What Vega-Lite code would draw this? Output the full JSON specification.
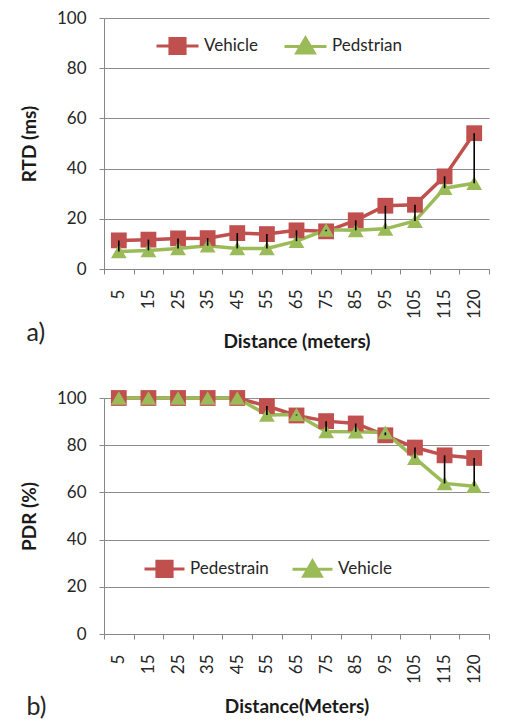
{
  "$schema": "https://vega.github.io/schema/vega-lite/v6.json",
  "background": "white",
  "padding": {"left": 20, "top": 9, "right": 10, "bottom": 8},
  "config": {
    "font": "Lato",
    "view": {"stroke": null},
    "axis": {
      "labelFont": "Lato", "labelFontSize": 17, "labelColor": "#262626",
      "titleFont": "Lato", "titleFontSize": 19, "titleFontWeight": "bold", "titleColor": "#1a1a1a",
      "domainColor": "#868686", "tickColor": "#868686", "gridColor": "#8c8c8c", "tickSize": 5
    },
    "legend": {"labelFont": "Lato", "labelFontSize": 17, "labelColor": "#262626"},
    "concat": {"spacing": 37}
  },
  "datasets": {
    "rtd": [
      {"Distance": 5, "Vehicle": 11.4, "Pedstrian": 7.0},
      {"Distance": 15, "Vehicle": 11.7, "Pedstrian": 7.4},
      {"Distance": 25, "Vehicle": 12.2, "Pedstrian": 8.2},
      {"Distance": 35, "Vehicle": 12.3, "Pedstrian": 9.3},
      {"Distance": 45, "Vehicle": 14.3, "Pedstrian": 8.2},
      {"Distance": 55, "Vehicle": 13.9, "Pedstrian": 8.2},
      {"Distance": 65, "Vehicle": 15.4, "Pedstrian": 11.1},
      {"Distance": 75, "Vehicle": 15.0, "Pedstrian": 15.6},
      {"Distance": 85, "Vehicle": 19.4, "Pedstrian": 15.4},
      {"Distance": 95, "Vehicle": 25.2, "Pedstrian": 16.0},
      {"Distance": 105, "Vehicle": 25.6, "Pedstrian": 19.1},
      {"Distance": 115, "Vehicle": 36.9, "Pedstrian": 32.2},
      {"Distance": 120, "Vehicle": 54.1, "Pedstrian": 34.2}
    ],
    "pdr": [
      {"Distance": 5, "Pedestrain": 100, "Vehicle": 100},
      {"Distance": 15, "Pedestrain": 100, "Vehicle": 100},
      {"Distance": 25, "Pedestrain": 100, "Vehicle": 100},
      {"Distance": 35, "Pedestrain": 100, "Vehicle": 100},
      {"Distance": 45, "Pedestrain": 100, "Vehicle": 100},
      {"Distance": 55, "Pedestrain": 96.6, "Vehicle": 92.8},
      {"Distance": 65, "Pedestrain": 92.6, "Vehicle": 93.0},
      {"Distance": 75, "Pedestrain": 90.2, "Vehicle": 85.8},
      {"Distance": 85, "Pedestrain": 89.2, "Vehicle": 85.7},
      {"Distance": 95, "Pedestrain": 84.2, "Vehicle": 85.4},
      {"Distance": 105, "Pedestrain": 79.0, "Vehicle": 74.5},
      {"Distance": 115, "Pedestrain": 75.7, "Vehicle": 63.8},
      {"Distance": 120, "Pedestrain": 74.6, "Vehicle": 62.6}
    ]
  },
  "vconcat": [
    {
      "width": 385,
      "height": 251,
      "data": {"name": "rtd"},
      "title": {"text": "a)", "orient": "bottom", "anchor": "start", "frame": "bounds", "offset": -31, "dx": 6, "fontSize": 25, "fontWeight": "normal", "font": "Lato", "color": "#262626"},
      "layer": [
        {
          "transform": [{"fold": ["Vehicle", "Pedstrian"], "as": ["Series", "Value"]}],
          "mark": {"type": "line", "strokeWidth": 3.5},
          "encoding": {
            "x": {"field": "Distance", "type": "ordinal", "scale": {"type": "band", "paddingInner": 0, "paddingOuter": 0}, "axis": {"title": "Distance (meters)", "labelAngle": 270, "tickBand": "extent", "grid": false, "labelPadding": 15, "titlePadding": 14}},
            "y": {"field": "Value", "type": "quantitative", "scale": {"domain": [0, 100]}, "axis": {"title": "RTD (ms)", "values": [0, 20, 40, 60, 80, 100], "grid": true, "labelPadding": 13, "titlePadding": 17}},
            "color": {"field": "Series", "type": "nominal", "scale": {"domain": ["Vehicle", "Pedstrian"], "range": ["#C0504D", "#9BBB59"]},
              "legend": {"title": null, "orient": "none", "legendX": 51, "legendY": 5, "direction": "horizontal", "columns": 2, "columnPadding": 20, "labelOffset": 4, "symbolSize": 1764, "padding": 0,
                "encode": {"symbols": {"update": {
                  "shape": {"signal": "datum.value === 'Vehicle' ? 'M-1,0H1M-0.36,-0.36H0.36V0.36H-0.36Z' : 'M-1,0H1M0,-0.4L0.42,0.32H-0.42Z'"},
                  "fill": {"signal": "datum.value === 'Vehicle' ? '#C0504D' : '#9BBB59'"},
                  "strokeWidth": {"value": 3}, "opacity": {"value": 1}}}}}}
          }
        },
        {
          "mark": {"type": "point", "shape": "square", "filled": true, "opacity": 1, "size": 250, "color": "#C0504D"},
          "encoding": {
            "x": {"field": "Distance", "type": "ordinal"},
            "y": {"field": "Vehicle", "type": "quantitative", "axis": {"title": "RTD (ms)"}}
          }
        },
        {
          "mark": {"type": "point", "shape": "triangle-up", "filled": true, "opacity": 1, "size": 250, "color": "#9BBB59"},
          "encoding": {
            "x": {"field": "Distance", "type": "ordinal"},
            "y": {"field": "Pedstrian", "type": "quantitative", "axis": {"title": "RTD (ms)"}}
          }
        },
        {
          "mark": {"type": "rule", "color": "black", "strokeWidth": 1.6},
          "encoding": {
            "x": {"field": "Distance", "type": "ordinal"},
            "y": {"field": "Vehicle", "type": "quantitative", "axis": {"title": "RTD (ms)"}},
            "y2": {"field": "Pedstrian"}
          }
        }
      ]
    },
    {
      "width": 385,
      "height": 236,
      "data": {"name": "pdr"},
      "title": {"text": "b)", "orient": "bottom", "anchor": "start", "frame": "bounds", "offset": -22, "dx": 6, "fontSize": 25, "fontWeight": "normal", "font": "Lato", "color": "#262626"},
      "layer": [
        {
          "transform": [{"fold": ["Pedestrain", "Vehicle"], "as": ["Series", "Value"]}],
          "mark": {"type": "line", "strokeWidth": 3.5},
          "encoding": {
            "x": {"field": "Distance", "type": "ordinal", "scale": {"type": "band", "paddingInner": 0, "paddingOuter": 0}, "axis": {"title": "Distance(Meters)", "labelAngle": 270, "tickBand": "extent", "grid": false, "labelPadding": 15, "titlePadding": 14}},
            "y": {"field": "Value", "type": "quantitative", "scale": {"domain": [0, 100]}, "axis": {"title": "PDR (%)", "values": [0, 20, 40, 60, 80, 100], "grid": true, "labelPadding": 13, "titlePadding": 17}},
            "color": {"field": "Series", "type": "nominal", "scale": {"domain": ["Pedestrain", "Vehicle"], "range": ["#C0504D", "#9BBB59"]},
              "legend": {"title": null, "orient": "none", "legendX": 39, "legendY": 149, "direction": "horizontal", "columns": 2, "columnPadding": 17, "labelOffset": 4, "symbolSize": 1600, "padding": 0,
                "encode": {"symbols": {"update": {
                  "shape": {"signal": "datum.value === 'Pedestrain' ? 'M-1,0H1M-0.38,-0.38H0.38V0.38H-0.38Z' : 'M-1,0H1M0,-0.42L0.44,0.34H-0.44Z'"},
                  "fill": {"signal": "datum.value === 'Pedestrain' ? '#C0504D' : '#9BBB59'"},
                  "strokeWidth": {"value": 3}, "opacity": {"value": 1}}}}}}
          }
        },
        {
          "mark": {"type": "point", "shape": "square", "filled": true, "opacity": 1, "size": 250, "color": "#C0504D"},
          "encoding": {
            "x": {"field": "Distance", "type": "ordinal"},
            "y": {"field": "Pedestrain", "type": "quantitative", "axis": {"title": "PDR (%)"}}
          }
        },
        {
          "mark": {"type": "point", "shape": "triangle-up", "filled": true, "opacity": 1, "size": 250, "color": "#9BBB59"},
          "encoding": {
            "x": {"field": "Distance", "type": "ordinal"},
            "y": {"field": "Vehicle", "type": "quantitative", "axis": {"title": "PDR (%)"}}
          }
        },
        {
          "mark": {"type": "rule", "color": "black", "strokeWidth": 1.6},
          "encoding": {
            "x": {"field": "Distance", "type": "ordinal"},
            "y": {"field": "Pedestrain", "type": "quantitative", "axis": {"title": "PDR (%)"}},
            "y2": {"field": "Vehicle"}
          }
        }
      ]
    }
  ],
  "resolve": {"scale": {"color": "independent"}, "legend": {"color": "independent"}}
}
